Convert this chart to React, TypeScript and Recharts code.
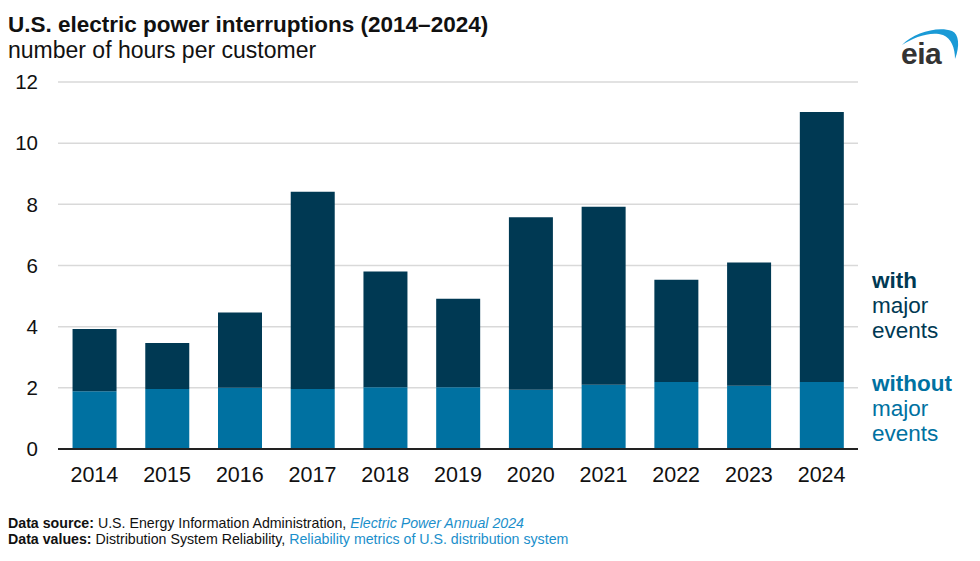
import React from 'react';
import { BarChart, Bar, XAxis, YAxis, CartesianGrid } from 'recharts';

const years = ['2014', '2015', '2016', '2017', '2018', '2019', '2020', '2021', '2022', '2023', '2024'];
const withMajorEvents = [3.92, 3.47, 4.46, 8.41, 5.8, 4.91, 7.58, 7.92, 5.53, 6.1, 11.02];
const withoutMajorEvents = [1.89, 1.96, 2.0, 1.96, 2.02, 2.02, 1.94, 2.1, 2.19, 2.07, 2.19];
const yTicks = [0, 2, 4, 6, 8, 10, 12];

const DARK = '#003953';
const LIGHT = '#0071a1';
const LINK = '#1b8fcb';
const FONT = 'Liberation Sans, Arial, sans-serif';

const data = years.map((year, i) => ({
  year,
  without: withoutMajorEvents[i],
  extra: +(withMajorEvents[i] - withoutMajorEvents[i]).toFixed(2),
}));

export default function App() {
  return (
    <div style={{ position: 'absolute', left: 0, top: 0, width: 980, height: 561, background: '#fff' }}>
      <BarChart
        width={980}
        height={561}
        data={data}
        margin={{ top: 82, right: 122, bottom: 82, left: 0 }}
        barCategoryGap="20%"
      >
        <CartesianGrid vertical={false} stroke="#d9d9d9" strokeWidth={1.5} />
        <XAxis
          dataKey="year"
          height={30}
          tickLine={false}
          axisLine={{ stroke: '#222', strokeWidth: 2 }}
          tickMargin={12}
          tick={{ fill: '#111', fontSize: 21.5, fontFamily: FONT }}
          interval={0}
        />
        <YAxis
          width={58}
          domain={[0, 12]}
          ticks={yTicks}
          tickLine={false}
          axisLine={false}
          tickMargin={14}
          tick={{ fill: '#111', fontSize: 20.5, fontFamily: FONT }}
          interval={0}
        />
        <Bar dataKey="without" stackId="a" fill={LIGHT} isAnimationActive={false} />
        <Bar dataKey="extra" stackId="a" fill={DARK} isAnimationActive={false} />
      </BarChart>
      <svg
        width={980}
        height={561}
        style={{ position: 'absolute', left: 0, top: 0, pointerEvents: 'none' }}
        fontFamily={FONT}
      >
        <text x={8} y={32} fontSize={22.5} fontWeight="bold" fill="#111">
          U.S. electric power interruptions (2014–2024)
        </text>
        <text x={8} y={58} fontSize={23} fill="#111">
          number of hours per customer
        </text>

        <text x={872} y={288} fontSize={22.5} fontWeight="bold" fill={DARK}>with</text>
        <text x={872} y={313} fontSize={22.5} fill={DARK}>major</text>
        <text x={872} y={338} fontSize={22.5} fill={DARK}>events</text>
        <text x={872} y={391} fontSize={22.5} fontWeight="bold" fill={LIGHT}>without</text>
        <text x={872} y={416} fontSize={22.5} fill={LIGHT}>major</text>
        <text x={872} y={441} fontSize={22.5} fill={LIGHT}>events</text>

        <text x={8} y={528} fontSize={14.2} fill="#111">
          <tspan fontWeight="bold">Data source: </tspan>
          <tspan>U.S. Energy Information Administration, </tspan>
          <tspan fill={LINK} fontStyle="italic">Electric Power Annual 2024</tspan>
        </text>
        <text x={8} y={544} fontSize={14.2} fill="#111">
          <tspan fontWeight="bold">Data values: </tspan>
          <tspan>Distribution System Reliability, </tspan>
          <tspan fill={LINK}>Reliability metrics of U.S. distribution system</tspan>
        </text>

        <path
          d="M902 45 C 914 33, 937 26, 952 31 C 959 34, 960 46, 955 59 C 955 48, 951 38, 943 35 C 931 31, 914 37, 902 45 Z"
          fill="#1a9ad6"
        />
        <text x={901} y={64} fontSize={30} fontWeight="bold" fill="#333" letterSpacing={-0.5}>
          eia
        </text>
      </svg>
    </div>
  );
}
